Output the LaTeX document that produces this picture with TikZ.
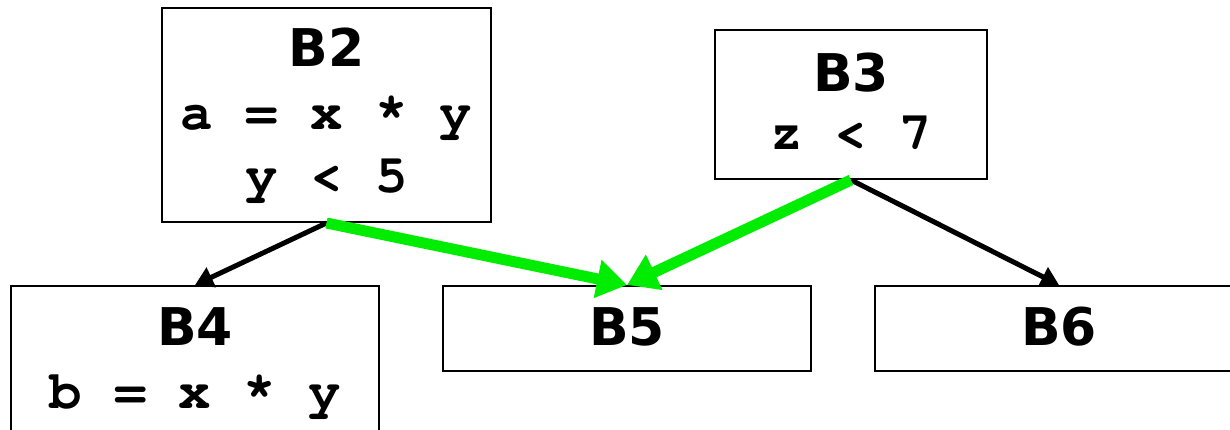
\documentclass[tikz,border=0pt]{standalone}
\usepackage{fontspec}
\newfontfamily\blkfont{DejaVu Sans}
\newfontfamily\cdfont{texgyrecursor-bold.otf}
\usetikzlibrary{arrows.meta}
\definecolor{brightgreen}{RGB}{0,236,0}
\tikzset{
  blockbox/.style={draw=black, line width=2pt, inner sep=0pt, fill=white},
  blocktitle/.style={anchor=base, inner sep=0pt, font=\blkfont\bfseries\fontsize{52}{52}\selectfont},
  codeline/.style={anchor=base, inner sep=0pt, font=\cdfont\fontsize{54}{54}\selectfont},
  plainedge/.style={draw=black, line width=5pt, -{Triangle[length=18pt,width=21pt]}},
  hotedge/.style={draw=brightgreen, line width=11pt, -{Triangle[length=30pt,width=37pt]}},
}
\begin{document}
\begin{tikzpicture}[x=1pt,y=-1pt]
\useasboundingbox (0,0) rectangle (1230,430);
% boxes
\node[blockbox, minimum width=329pt, minimum height=214pt] (b2) at (326.5,115) {};
\node[blockbox, minimum width=272pt, minimum height=149pt] (b3) at (851,104.5) {};
\node[blockbox, minimum width=368pt, minimum height=200pt] (b4) at (195,386) {};
\node[blockbox, minimum width=368pt, minimum height=85pt] (b5) at (627,328.5) {};
\node[blockbox, minimum width=368pt, minimum height=85pt] (b6) at (1059,328.5) {};
% texts
\node[blocktitle] (b2t) at (326.5,67) {B2};
\node[codeline] (b2c1) at (326.5,130) {a = x * y};
\node[codeline] (b2c2) at (326.5,193) {y < 5};
\node[blocktitle] (b3t) at (851,92) {B3};
\node[codeline] (b3c1) at (851,150) {z < 7};
\node[blocktitle] (b4t) at (195,345) {B4};
\node[codeline] (b4c1) at (195,408) {b = x * y};
\node[blocktitle] (b5t) at (627,345) {B5};
\node[blocktitle] (b6t) at (1059,345) {B6};
% edges
\draw[plainedge] (b2.south) -- (b4.north);
\draw[plainedge] (b3.south) -- (b6.north);
\draw[hotedge] (b2.south) -- (b5.north);
\draw[hotedge] (b3.south) -- (b5.north);
\end{tikzpicture}
\end{document}
